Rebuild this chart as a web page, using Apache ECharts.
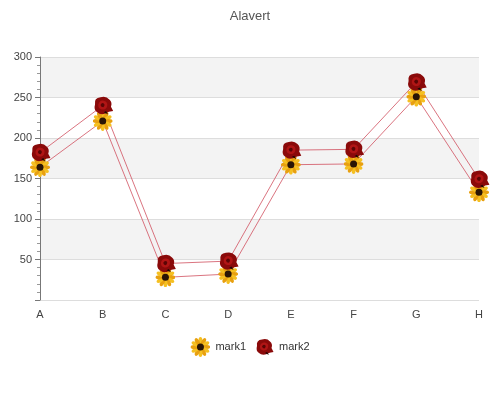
<!DOCTYPE html>
<html>
<head>
<meta charset="utf-8">
<script src="https://cdn.jsdelivr.net/npm/echarts@6/dist/echarts.min.js"></script>
<style>html,body{margin:0;padding:0;}#main{width:500px;height:400px;}</style>
</head>
<body>
<div id="main"></div>
<script>
const categories = ['A', 'B', 'C', 'D', 'E', 'F', 'G', 'H'];
const mark1 = [164, 221, 28, 32, 167, 168, 251, 133];
const mark2 = [182, 240, 45, 48, 185, 186, 269, 149];

// little svg pictures for the markers
function svgUri(svg) {
  return 'image://data:image/svg+xml;charset=utf-8,' + encodeURIComponent(svg);
}
let petals = '';
for (let i = 0; i < 12; i++) {
  petals += '<ellipse cx="20" cy="8" rx="4" ry="8" fill="' + (i % 2 ? '#e8a010' : '#f5c021') +
    '" transform="rotate(' + (i * 30) + ' 20 20)"/>';
}
const sunflower = svgUri('<svg xmlns="http://www.w3.org/2000/svg" width="40" height="40" viewBox="0 0 40 40">' +
  petals + '<circle cx="20" cy="20" r="7" fill="#2a1505"/></svg>');
const rose = svgUri('<svg xmlns="http://www.w3.org/2000/svg" width="40" height="40" viewBox="0 0 40 40">' +
  '<path d="M6 18 Q4 6 16 5 Q26 2 32 9 Q38 14 35 22 L39 30 Q30 31 26 34 Q16 38 10 32 Q3 28 6 18Z" fill="#8a0a0a"/>' +
  '<path d="M12 18 Q14 10 22 11 Q30 13 28 21 Q26 28 18 27 Q11 25 12 18Z" fill="#b01515"/>' +
  '<path d="M16 19 Q18 14 22 16 Q25 19 21 23 Q17 23 16 19Z" fill="#5a0505"/>' +
  '<path d="M22 32 L30 36 L26 30Z" fill="#1a0a05"/></svg>');

const chart = echarts.init(document.getElementById('main'));
chart.setOption({
  title: {
    text: 'Alavert',
    left: 'center',
    top: 5,
    textStyle: { fontWeight: 'normal', fontSize: 13, color: '#555' }
  },
  legend: {
    bottom: 38,
    itemWidth: 20,
    itemHeight: 20,
    textStyle: { fontSize: 11, color: '#333' },
    data: [{ name: 'mark1', icon: sunflower }, { name: 'mark2', icon: rose }]
  },
  grid: { left: 40, right: 21, top: 57, bottom: 100 },
  xAxis: {
    type: 'category',
    boundaryGap: false,
    data: categories,
    axisTick: { show: false },
    axisLine: { show: false },
    axisLabel: { color: '#444', fontSize: 11, margin: 9 }
  },
  yAxis: {
    type: 'value',
    min: 0,
    max: 300,
    interval: 50,
    axisLine: { show: true, lineStyle: { color: '#777' } },
    axisTick: { show: true, lineStyle: { color: '#777' } },
    minorTick: { show: true, splitNumber: 5, lineStyle: { color: '#999' } },
    axisLabel: {
      color: '#444', fontSize: 11,
      formatter: v => (v === 0 ? '' : v)
    },
    splitLine: { lineStyle: { color: '#ddd' } },
    splitArea: { show: true, areaStyle: { color: ['#fff', '#f3f3f3'] } }
  },
  series: [
    {
      name: 'mark1', type: 'line', data: mark1,
      symbol: sunflower, symbolSize: 20, showAllSymbol: true,
      itemStyle: { color: '#e8a010' },
      lineStyle: { color: '#d05060', width: 0.8 }
    },
    {
      name: 'mark2', type: 'line', data: mark2,
      symbol: rose, symbolSize: 22, showAllSymbol: true,
      itemStyle: { color: '#8a0a0a' },
      lineStyle: { color: '#d05060', width: 0.8 }
    }
  ]
});
</script>
</body>
</html>
